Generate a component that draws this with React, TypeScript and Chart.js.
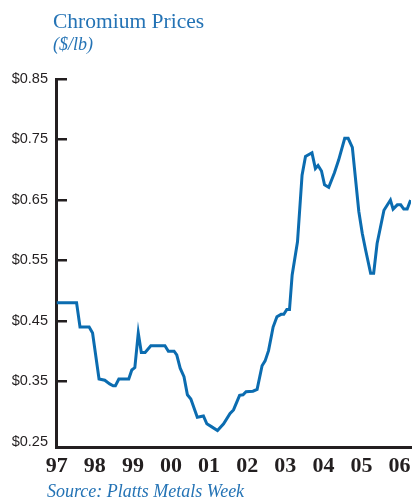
import { useEffect, useRef } from 'react';
import { Chart, registerables } from 'chart.js';

Chart.register(...registerables);

const TITLE = 'Chromium Prices';
const SUBTITLE = '($/lb)';
const SOURCE = 'Source: Platts Metals Week';

const yearTicks = [1997, 1998, 1999, 2000, 2001, 2002, 2003, 2004, 2005, 2006];
const yearLabels = ['97', '98', '99', '00', '01', '02', '03', '04', '05', '06'];
const priceTicks = [0.25, 0.35, 0.45, 0.55, 0.65, 0.75, 0.85];

const dates = [
  1997.0, 1997.52, 1997.61, 1997.85, 1997.94, 1998.11, 1998.26, 1998.39, 1998.48, 1998.54,
  1998.63, 1998.89, 1998.97, 1999.05, 1999.14, 1999.22, 1999.32, 1999.47, 1999.84, 1999.93,
  2000.08, 2000.15, 2000.24, 2000.34, 2000.43, 2000.52, 2000.69, 2000.85, 2000.94, 2001.07,
  2001.22, 2001.38, 2001.55, 2001.64, 2001.8, 2001.89, 2001.97, 2002.15, 2002.26, 2002.39,
  2002.47, 2002.56, 2002.65, 2002.68, 2002.78, 2002.89, 2002.96, 2003.04, 2003.11, 2003.18,
  2003.32, 2003.44, 2003.53, 2003.7, 2003.79, 2003.86, 2003.95, 2004.03, 2004.14, 2004.29,
  2004.4, 2004.56, 2004.65, 2004.76, 2004.93, 2005.02, 2005.11, 2005.24, 2005.32, 2005.41,
  2005.59, 2005.76, 2005.83, 2005.94, 2006.03, 2006.11, 2006.2, 2006.29,
];
const prices = [
  0.48, 0.48, 0.44, 0.44, 0.43, 0.354, 0.352, 0.346, 0.343, 0.343,
  0.354, 0.354, 0.369, 0.373, 0.43, 0.398, 0.398, 0.409, 0.409, 0.4,
  0.4, 0.394, 0.372, 0.358, 0.328, 0.321, 0.291, 0.293, 0.28, 0.275,
  0.269, 0.28, 0.297, 0.303, 0.327, 0.328, 0.333, 0.334, 0.337, 0.376,
  0.384, 0.401, 0.43, 0.44, 0.457, 0.461, 0.461, 0.469, 0.469, 0.526,
  0.581, 0.691, 0.722, 0.728, 0.702, 0.707, 0.698, 0.675, 0.671, 0.695,
  0.716, 0.752, 0.752, 0.737, 0.631, 0.595, 0.567, 0.529, 0.529, 0.578,
  0.633, 0.65, 0.635, 0.642, 0.642, 0.635, 0.635, 0.65,
];

const BLUE = '#0b6cb0';
const TEXT_BLUE = '#2473b5';
const DARK = '#231f20';

const extras = {
  id: 'extras',
  afterDraw(chart: any) {
    const { ctx, chartArea, scales } = chart;
    const y = scales.y;
    ctx.save();
    ctx.strokeStyle = DARK;
    ctx.lineWidth = 2.5;
    priceTicks.forEach((v) => {
      if (v <= 0.25) return;
      const py = Math.round(y.getPixelForValue(v)) + 0.25;
      ctx.beginPath();
      ctx.moveTo(chartArea.left, py);
      ctx.lineTo(chartArea.left + 11, py);
      ctx.stroke();
    });
    ctx.textAlign = 'left';
    ctx.textBaseline = 'alphabetic';
    ctx.fillStyle = TEXT_BLUE;
    ctx.font = '21.5px "Liberation Serif"';
    ctx.fillText(TITLE, 53, 28);
    ctx.font = 'italic 18px "Liberation Serif"';
    ctx.fillText(SUBTITLE, 53, 50);
    ctx.fillText(SOURCE, 47, 497);
    ctx.restore();
  },
};

export default function App() {
  const ref = useRef<HTMLCanvasElement | null>(null);
  useEffect(() => {
    if (!ref.current) return;
    const chart = new Chart(ref.current, {
      type: 'line',
      data: {
        datasets: [
          {
            data: dates.map((d, i) => ({ x: d, y: prices[i] })),
            borderColor: BLUE,
            borderWidth: 3,
            pointRadius: 0,
            tension: 0,
            fill: false,
          },
        ],
      },
      options: {
        animation: false,
        responsive: false,
        maintainAspectRatio: false,
        layout: { padding: { left: 0, top: 79, right: 6, bottom: 0 } },
        plugins: { legend: { display: false }, tooltip: { enabled: false }, title: { display: false } },
        scales: {
          x: {
            type: 'linear',
            min: 1996.98,
            max: 2006.3,
            afterBuildTicks: (scale: any) => {
              scale.ticks = yearTicks.map((v) => ({ value: v }));
            },
            afterFit: (scale: any) => {
              scale.height = 54;
            },
            grid: { display: false, drawTicks: false },
            border: { display: true, width: 3, color: DARK },
            ticks: {
              padding: 6,
              color: DARK,
              font: { family: '"Liberation Serif"', size: 22, weight: 'bold' },
              maxRotation: 0,
              autoSkip: false,
              callback: (v: any) => yearLabels[yearTicks.indexOf(Number(v))] ?? '',
            },
          },
          y: {
            type: 'linear',
            min: 0.2417,
            max: 0.85,
            afterBuildTicks: (scale: any) => {
              scale.ticks = priceTicks.map((v) => ({ value: v }));
            },
            afterFit: (scale: any) => {
              scale.width = 56;
            },
            grid: { display: false, drawTicks: false },
            border: { display: true, width: 3, color: DARK },
            ticks: {
              padding: 8,
              color: DARK,
              font: { family: '"Liberation Sans"', size: 14.5 },
              callback: (v: any) => '$' + Number(v).toFixed(2),
            },
          },
        },
      },
      plugins: [extras],
    });
    return () => chart.destroy();
  }, []);
  return (
    <div style={{ position: 'fixed', left: 0, top: 0, width: 417, height: 501, background: '#fff' }}>
      <canvas ref={ref} width={417} height={501} style={{ display: 'block' }} />
    </div>
  );
}
